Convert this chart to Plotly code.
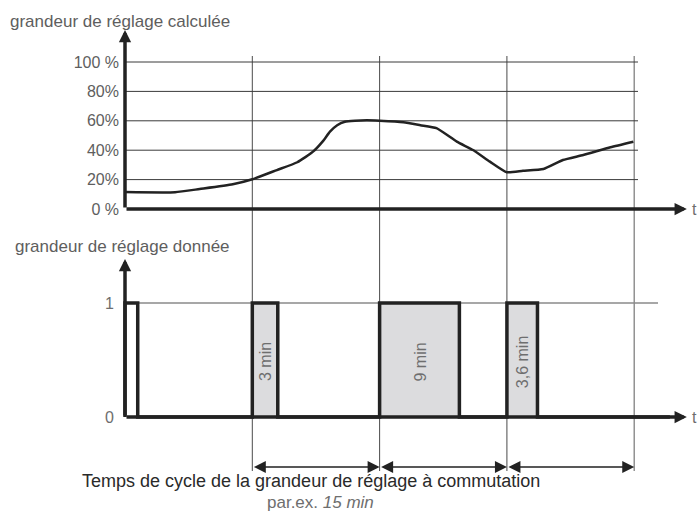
import plotly.graph_objects as go

# ---------------- data ----------------
calc_time = [0, 5.9, 8.8, 12.7, 15.0, 17.9, 20.3, 22.15, 23.3, 24.15, 25.0, 25.9, 27.1,
             28.5, 30.0, 32.8, 34.8, 36.7, 39.1, 41.0, 43.0, 45.0, 46.9, 49.3, 51.6,
             54.0, 57.2, 59.9]
calc_pct = [11.5, 11.4, 13.6, 16.8, 20.2, 26.5, 31.8, 39, 46, 52.6, 57, 59.3, 60.0,
            60.3, 60, 59, 57, 55, 45.8, 40.1, 32.2, 25, 26, 27.2, 33.3,
            36.7, 42, 45.8]

pct_ticks = [0, 20, 40, 60, 80, 100]
pct_ticktext = ["0 %", "20%", "40%", "60%", "80%", "100 %"]
out_ticks = [0, 1]
out_ticktext = ["0", "1"]

pulse_start = [0, 15, 30, 45]
pulse_end = [1.5, 18.0, 39.4, 48.6]
pulse_filled = [False, True, True, True]
pulse_labels = ["", "3 min", "9 min", "3,6 min"]

cycle_bounds = [15, 30, 45, 60]
t_end = 66.2  # arrow tip of time axes

title_top = "grandeur de réglage calculée"
title_bottom = "grandeur de réglage donnée"
caption1 = "Temps de cycle de la grandeur de réglage à commutation"
caption2 = "par.ex. <i>15 min</i>"

# ---------------- layout helpers ----------------
W, H = 698, 513
PX_PER_MIN = 8.487
X0_PX = 125
x_range = [-X0_PX / PX_PER_MIN, (W - X0_PX) / PX_PER_MIN]
Y0_TOP, PX_PER_PCT = 209, 1.47
y_range = [(Y0_TOP - H) / PX_PER_PCT, Y0_TOP / PX_PER_PCT]
Y0_BOT, PX_PER_UNIT = 417, 114
y2_range = [(Y0_BOT - H) / PX_PER_UNIT, Y0_BOT / PX_PER_UNIT]


def py(px):
    return 1 - px / H


DARK = "#222222"
GREY_TXT = "#5e5e5e"
LIGHT_TXT = "#6e6e6e"
FONT = "Liberation Sans, Arial, sans-serif"

fig = go.Figure()

# gray filled pulses
for s, e, f in zip(pulse_start, pulse_end, pulse_filled):
    fig.add_trace(go.Scatter(
        x=[s, e, e, s, s], y=[0, 0, 1, 1, 0], yaxis="y2", mode="lines",
        fill="toself", fillcolor="#dcdcde" if f else "white",
        line=dict(width=0), hoverinfo="skip", showlegend=False))

# step waveform
sx, sy = [], []
for s, e in zip(pulse_start, pulse_end):
    sx += [s, s, e, e]
    sy += [0, 1, 1, 0]
sx.append(t_end - 2)
sy.append(0)
fig.add_trace(go.Scatter(x=sx, y=sy, yaxis="y2", mode="lines",
                         line=dict(color=DARK, width=3.5), hoverinfo="skip",
                         showlegend=False))

# calculated control value curve
fig.add_trace(go.Scatter(x=calc_time, y=calc_pct, yaxis="y", mode="lines",
                         line=dict(color=DARK, width=2.5, shape="spline", smoothing=0.5),
                         hoverinfo="skip", showlegend=False))

shapes = []
grid_end = (638 - X0_PX) / PX_PER_MIN
for v in pct_ticks[1:]:
    shapes.append(dict(type="line", xref="x", yref="y", x0=0, x1=grid_end, y0=v, y1=v,
                       line=dict(color="#3a3a3a", width=1), layer="below"))
lvl_end = (658 - X0_PX) / PX_PER_MIN
shapes.append(dict(type="line", xref="x", yref="y2", x0=0, x1=lvl_end, y0=1, y1=1,
                   line=dict(color="#8a8a8a", width=1.3), layer="below"))
for i, c in enumerate(cycle_bounds):
    last = i == len(cycle_bounds) - 1
    shapes.append(dict(type="line", xref="x", yref="paper", x0=c, x1=c,
                       y0=py(471), y1=py(56),
                       line=dict(color="#8a8a8a" if last else "#4a4a4a",
                                 width=1.4 if last else 1),
                       layer="below"))

annotations = []
# axes arrows
annotations.append(dict(x=t_end, y=0, ax=0, ay=0, xref="x", yref="y", axref="x", ayref="y",
                        text="", showarrow=True, arrowhead=2, arrowsize=0.7, arrowwidth=3.5,
                        arrowcolor=DARK))
annotations.append(dict(x=0, y=(Y0_TOP - 30) / PX_PER_PCT, ax=0, ay=0, xref="x", yref="y",
                        axref="x", ayref="y", text="", showarrow=True, arrowhead=2,
                        arrowsize=0.7, arrowwidth=3.5, arrowcolor=DARK))
annotations.append(dict(x=t_end, y=0, ax=0, ay=0, xref="x", yref="y2", axref="x", ayref="y2",
                        text="", showarrow=True, arrowhead=2, arrowsize=0.7, arrowwidth=3.5,
                        arrowcolor=DARK))
annotations.append(dict(x=0, y=(Y0_BOT - 259) / PX_PER_UNIT, ax=0, ay=0, xref="x", yref="y2",
                        axref="x", ayref="y2", text="", showarrow=True, arrowhead=2,
                        arrowsize=0.7, arrowwidth=3.5, arrowcolor=DARK))
# "t" labels
for yr in ["y", "y2"]:
    annotations.append(dict(x=(698 - X0_PX) / PX_PER_MIN, y=0, xref="x", yref=yr, text="t",
                            showarrow=False, xanchor="right", yanchor="middle",
                            borderpad=0,
                            font=dict(family=FONT, size=16, color=LIGHT_TXT)))
# cycle arrows
arrow_y = (Y0_BOT - 467) / PX_PER_UNIT
for a, b in zip(cycle_bounds[:-1], cycle_bounds[1:]):
    annotations.append(dict(x=b, y=arrow_y, ax=a, ay=arrow_y, xref="x", yref="y2",
                            axref="x", ayref="y2", text="", showarrow=True,
                            arrowhead=2, startarrowhead=2, arrowside="end+start",
                            arrowsize=1.6, startarrowsize=1.6, arrowwidth=1.5,
                            arrowcolor=DARK))
# pulse labels
lab_y = (Y0_BOT - 362) / PX_PER_UNIT
for s, e, lab in zip(pulse_start, pulse_end, pulse_labels):
    if lab:
        annotations.append(dict(x=(s + e) / 2, y=lab_y, xref="x", yref="y2", text=lab,
                                textangle=-90, showarrow=False,
                                font=dict(family=FONT, size=16, color=LIGHT_TXT)))
# titles
annotations.append(dict(x=8 / W, y=py(21), xref="paper", yref="paper", text=title_top,
                        showarrow=False, xanchor="left", yanchor="middle",
                        font=dict(family=FONT, size=17, color=GREY_TXT)))
annotations.append(dict(x=13 / W, y=py(247), xref="paper", yref="paper", text=title_bottom,
                        showarrow=False, xanchor="left", yanchor="middle",
                        font=dict(family=FONT, size=17, color=GREY_TXT)))
annotations.append(dict(x=310.5 / W, y=py(481), xref="paper", yref="paper", text=caption1,
                        showarrow=False, xanchor="center", yanchor="middle",
                        font=dict(family=FONT, size=18, color="#2a2a2a")))
annotations.append(dict(x=320 / W, y=py(502), xref="paper", yref="paper", text=caption2,
                        showarrow=False, xanchor="center", yanchor="middle",
                        font=dict(family=FONT, size=17, color=LIGHT_TXT)))

fig.update_layout(
    width=W, height=H, margin=dict(l=0, r=0, t=0, b=0),
    paper_bgcolor="white", plot_bgcolor="white",
    xaxis=dict(range=x_range, visible=False, fixedrange=True),
    yaxis=dict(range=y_range, tickvals=pct_ticks, ticktext=pct_ticktext,
               showgrid=False, zeroline=False, showline=False, ticks="",
               anchor="free", position=X0_PX / W, side="left", ticklabelstandoff=6,
               tickfont=dict(family=FONT, size=16, color=GREY_TXT), fixedrange=True),
    yaxis2=dict(range=y2_range, tickvals=out_ticks, ticktext=out_ticktext,
                showgrid=False, zeroline=False, showline=False, ticks="",
                anchor="free", position=X0_PX / W, side="left", overlaying="y",
                ticklabelstandoff=11,
                tickfont=dict(family=FONT, size=16, color=LIGHT_TXT), fixedrange=True),
    shapes=shapes, annotations=annotations, showlegend=False,
)

fig.write_html("out.html", config={"displayModeBar": False},
               post_script="document.body.style.margin='0';document.body.style.overflow='hidden';")
